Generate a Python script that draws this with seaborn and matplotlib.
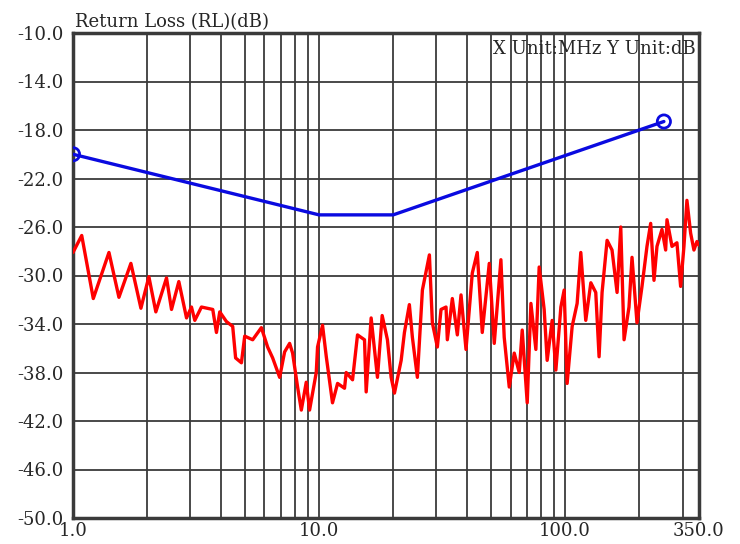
from matplotlib import pyplot as plt
from matplotlib import ticker as ticker
import pandas as pd
import seaborn as sns

sns.set_style('white')
plt.rcParams['font.family'] = ['DejaVu Serif', 'Liberation Serif']

# measured return loss trace (MHz, dB)
freq = [1.0, 1.085, 1.209, 1.400, 1.537, 1.719, 1.888, 2.034, 2.171, 2.399,
        2.514, 2.692, 2.893, 3.030, 3.126, 3.327, 3.698, 3.828, 3.948, 4.203,
        4.457, 4.58, 4.836, 4.987, 5.373, 5.828, 6.18, 6.478, 6.916, 7.245,
        7.592, 7.807, 8.18, 8.47, 8.87, 9.15, 9.74, 9.86, 10.33, 10.70,
        11.34, 11.89, 12.69, 12.89, 13.68, 14.33, 15.30, 15.54, 16.28, 17.27,
        18.05, 18.96, 19.63, 20.25, 21.56, 22.23, 23.28, 23.95, 25.09, 26.30,
        28.08, 28.87, 30.25, 31.31, 32.81, 33.21, 34.80, 36.47, 37.75, 39.55,
        41.95, 43.95, 46.05, 49.17, 51.52, 54.83, 56.55, 59.28, 62.11, 65.08,
        66.93, 70.13, 72.60, 76.05, 78.44, 82.19, 84.53, 88.57, 91.7, 96.1,
        99.1, 101.9, 106.8, 111.9, 115.8, 121.3, 127.2, 133.2, 137.4, 141.3,
        148.1, 155.1, 162.6, 168.3, 173.6, 181.8, 187.0, 195.9, 205.3, 215.1,
        222.7, 229.7, 236.2, 247.5, 256.2, 259.4, 271.8, 284.7, 294.7, 304.0,
        312.6, 323.6, 333.8, 343.3, 350.0]
rl = [-28.1, -26.7, -31.9, -28.1, -31.8, -29.0, -32.7, -30.1, -33.0, -30.2,
      -32.8, -30.5, -33.5, -32.6, -33.7, -32.6, -32.8, -34.7, -33.0, -33.8,
      -34.2, -36.8, -37.2, -35.0, -35.3, -34.3, -35.9, -36.8, -38.4, -36.3,
      -35.6, -36.4, -39.2, -41.1, -38.8, -41.1, -38.0, -35.9, -34.1, -36.7,
      -40.5, -38.9, -39.3, -38.0, -38.6, -34.9, -35.3, -39.6, -33.5, -38.4,
      -33.3, -35.3, -38.4, -39.7, -37.0, -34.7, -32.4, -35.1, -38.4, -31.2,
      -28.3, -33.9, -35.9, -32.8, -32.6, -35.3, -31.9, -34.9, -31.6, -36.1,
      -29.8, -28.1, -34.7, -29.0, -35.6, -28.7, -35.1, -39.2, -36.4, -38.0,
      -34.5, -40.5, -32.3, -36.1, -29.3, -32.8, -37.0, -33.7, -37.8, -32.6,
      -31.2, -38.9, -34.2, -32.3, -28.1, -33.7, -30.6, -31.4, -36.7, -31.4,
      -27.1, -27.9, -31.4, -26.0, -35.3, -32.6, -28.5, -33.9, -30.9, -27.6,
      -25.7, -30.4, -27.6, -26.2, -27.9, -25.4, -27.6, -27.3, -30.9, -27.6,
      -23.8, -26.5, -27.9, -27.2, -27.5]

# limit line
lim_freq = [1.0, 10.0, 20.0, 252.0]
lim_rl = [-20.0, -25.0, -25.0, -17.3]

y_ticks = [-10, -14, -18, -22, -26, -30, -34, -38, -42, -46, -50]
x_ticks = [1, 10, 100, 350]
x_labels = ['1.0', '10.0', '100.0', '350.0']
x_minor = [2, 3, 4, 5, 6, 7, 8, 9, 20, 30, 40, 50, 60, 70, 80, 90, 200, 300]

df = pd.DataFrame({'freq': freq, 'rl': rl})
dfl = pd.DataFrame({'freq': lim_freq, 'rl': lim_rl})
dfm = dfl.iloc[[0, -1]]

fig = plt.figure(figsize=(7.4, 5.44), dpi=100)
ax = fig.add_axes([73 / 740, 1 - 518 / 544, 626 / 740, 485 / 544])

sns.lineplot(x='freq', y='rl', data=df, sort=False, estimator=None,
             color='#ff0000', lw=2.4, ax=ax, zorder=3)
sns.lineplot(x='freq', y='rl', data=dfl, sort=False, estimator=None,
             color='#0a0ae0', lw=2.4, ax=ax, zorder=4)
sns.scatterplot(x='freq', y='rl', data=dfm, marker='o', s=90,
                facecolor='none', edgecolor='#0a0ae0', linewidth=2, ax=ax, zorder=5)

ax.set_xscale('log')
ax.set(xlim=(1, 350), ylim=(-50, -10))
ax.xaxis.set_major_locator(ticker.FixedLocator(x_ticks))
ax.xaxis.set_major_formatter(ticker.FixedFormatter(x_labels))
ax.xaxis.set_minor_locator(ticker.FixedLocator(x_minor))
ax.xaxis.set_minor_formatter(ticker.NullFormatter())
ax.yaxis.set_major_locator(ticker.FixedLocator(y_ticks))
ax.yaxis.set_major_formatter(ticker.FormatStrFormatter('%.1f'))
ax.grid(True, which='both', color='#3a3a3a', lw=1.3)
ax.set_axisbelow(True)
ax.tick_params(which='both', length=0, labelsize=13)
ax.tick_params(axis='y', pad=7)
ax.tick_params(axis='x', pad=3)
for s in ax.spines.values():
    s.set_color('#3a3a3a')
    s.set_linewidth(2.5)
ax.set(xlabel='', ylabel='')

fig.text(75 / 740, 1 - 27 / 544, 'Return Loss (RL)(dB)', fontsize=13, ha='left', va='baseline')
ax.text(0.995, 0.985, 'X Unit:MHz Y Unit:dB', transform=ax.transAxes,
        fontsize=13, ha='right', va='top', zorder=6)

plt.savefig('out.png', dpi=100)
